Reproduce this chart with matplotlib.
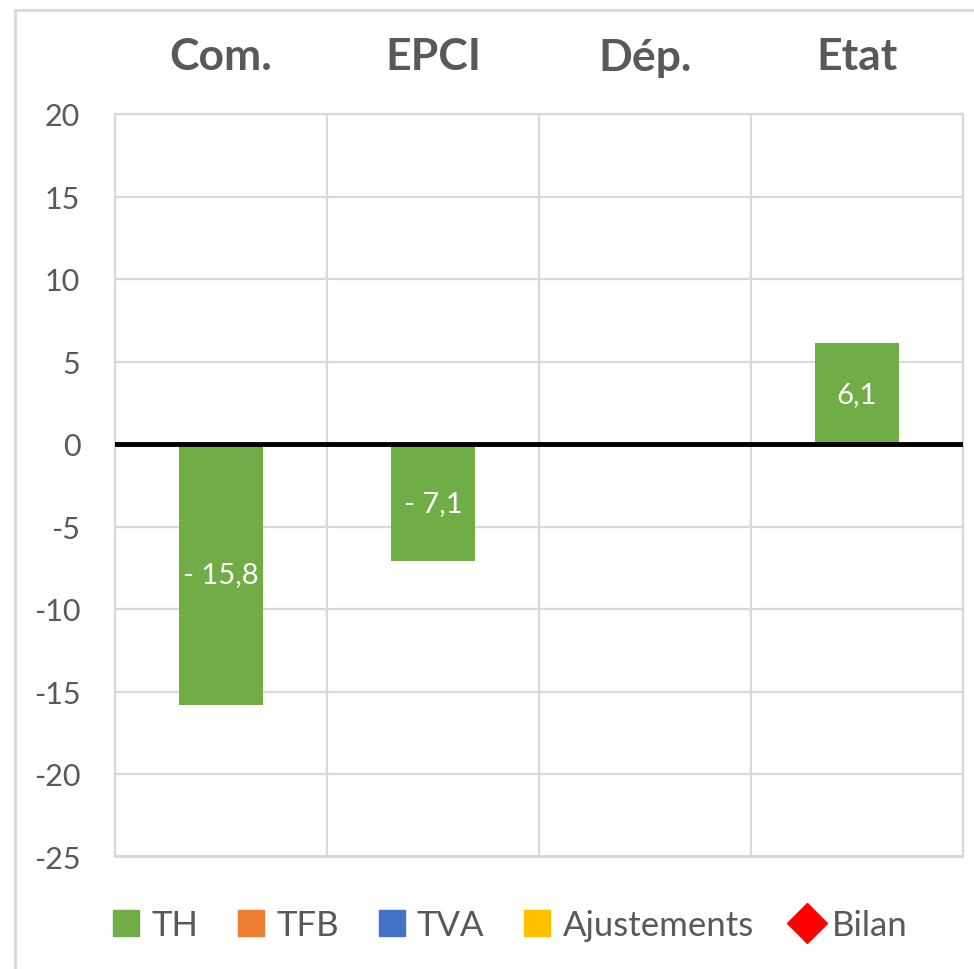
import matplotlib.pyplot as plt
from matplotlib.lines import Line2D
from matplotlib.patches import Patch, Rectangle
import numpy as np

# Données
categories = ['Com.', 'EPCI', 'Dép.', 'Etat']
th = [-15.8, -7.1, 0.0, 6.1]
tfb = [0.0, 0.0, 0.0, 0.0]
tva = [0.0, 0.0, 0.0, 0.0]
ajustements = [0.0, 0.0, 0.0, 0.0]
y_ticks = [20, 15, 10, 5, 0, -5, -10, -15, -20, -25]

colors = {'TH': '#70AD47', 'TFB': '#ED7D31', 'TVA': '#4472C4',
          'Ajustements': '#FFC000', 'Bilan': '#FF0000'}
grey_txt = '#595959'
grid_col = '#D9D9D9'

plt.rcParams['font.family'] = ['Lato', 'DejaVu Sans']

fig = plt.figure(figsize=(9.74, 9.70), dpi=100)
ax = fig.add_axes([115 / 974, 1 - 857.5 / 970, (963 - 115) / 974, (857.5 - 115) / 970])

x = np.arange(len(categories))
width = 0.4

# Barres empilées (seule TH a des valeurs non nulles)
pos_base = np.zeros(len(categories))
neg_base = np.zeros(len(categories))
for name, vals in [('TH', th), ('TFB', tfb), ('TVA', tva), ('Ajustements', ajustements)]:
    vals = np.array(vals)
    base = np.where(vals >= 0, pos_base, neg_base)
    bars = ax.bar(x, vals, width, bottom=base, color=colors[name], linewidth=0, zorder=3)
    if name == 'TH':
        for b, v in zip(bars, vals):
            if v == 0:
                continue
            lbl = f"{abs(v):.1f}".replace('.', ',')
            if v < 0:
                lbl = '- ' + lbl
            ax.text(b.get_x() + b.get_width() / 2, b.get_y() + b.get_height() / 2, lbl,
                    ha='center', va='center', color='white', fontsize=21, zorder=4)
    pos_base += np.where(vals > 0, vals, 0)
    neg_base += np.where(vals < 0, vals, 0)

ax.axhline(0, color='black', linewidth=3.5, zorder=5)

ax.set_xlim(-0.5, len(categories) - 0.5)
ax.set_ylim(-25, 20)
ax.set_yticks(y_ticks)
ax.set_yticklabels([str(t) for t in y_ticks], fontsize=22, color=grey_txt)
ax.tick_params(axis='y', length=0, pad=25)

# Catégories en haut
ax.xaxis.tick_top()
ax.set_xticks(x)
ax.set_xticklabels(categories, fontsize=32, fontweight='bold', color=grey_txt)
ax.tick_params(axis='x', length=0, pad=27)

# Grille
ax.set_xticks(np.arange(-0.5, len(categories), 1), minor=True)
ax.tick_params(axis='x', which='minor', length=0)
ax.grid(True, axis='y', which='major', color=grid_col, linewidth=1.6, zorder=0)
ax.grid(True, axis='x', which='minor', color=grid_col, linewidth=1.6, zorder=0)
ax.grid(False, axis='x', which='major')
for s in ax.spines.values():
    s.set_color(grid_col)
    s.set_linewidth(1.6)

# Légende
handles = [Patch(color=colors[n]) for n in ['TH', 'TFB', 'TVA', 'Ajustements']]
handles.append(Line2D([], [], marker='D', color=colors['Bilan'], linestyle='none', markersize=20))
fig.legend(handles, ['TH', 'TFB', 'TVA', 'Ajustements', 'Bilan'], loc='center',
           bbox_to_anchor=(0.524, 1 - 926 / 970), ncol=5, frameon=False,
           fontsize=25, labelcolor=grey_txt, handlelength=0.75, handleheight=0.75,
           handletextpad=0.35, columnspacing=1.15)

# Cadre du graphique
fig.patches.append(Rectangle((15 / 974, -0.01), 1.1, 1 - 11 / 970 + 0.01,
                             transform=fig.transFigure, fill=False,
                             edgecolor=grid_col, linewidth=2))

plt.savefig('out.png', dpi=100)
